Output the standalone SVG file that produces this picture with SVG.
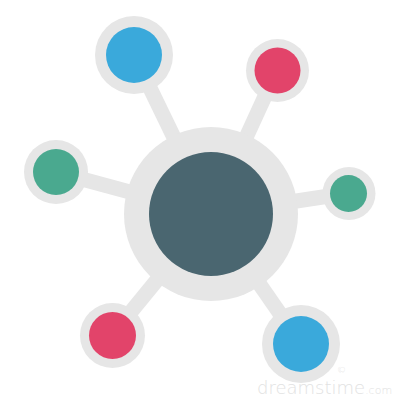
<svg xmlns="http://www.w3.org/2000/svg" width="400" height="400" viewBox="0 0 400 400">
<style>
.ring{fill:#e6e6e6}
.link{stroke:#e6e6e6;stroke-width:15;stroke-linecap:butt}
.blue{fill:#3aa9db}
.red{fill:#e2446a}
.green{fill:#4aa98f}
.hub{fill:#4a6670}
.wm{fill:#e2e2e2;font-family:"DejaVu Sans",sans-serif;font-weight:200}
</style>
<rect width="400" height="400" fill="#ffffff"/>
<g id="connectors">
<line class="link" x1="134" y1="55" x2="211" y2="214"/>
<line class="link" x1="277" y1="70" x2="211" y2="214"/>
<line class="link" x1="56" y1="172" x2="211" y2="214"/>
<line class="link" x1="349" y1="193" x2="211" y2="214"/>
<line class="link" x1="112" y1="335" x2="211" y2="214"/>
<line class="link" x1="301" y1="344" x2="211" y2="214"/>
</g>
<g id="hub">
<circle class="ring" cx="211" cy="214" r="87"/>
<circle class="hub" cx="211" cy="214" r="62"/>
</g>
<g id="node-top-left">
<circle class="ring" cx="134" cy="55" r="39"/>
<circle class="blue" cx="134" cy="55" r="28"/>
</g>
<g id="node-top-right">
<circle class="ring" cx="277.5" cy="70.5" r="31.5"/>
<circle class="red" cx="277.5" cy="70.5" r="23"/>
</g>
<g id="node-left">
<circle class="ring" cx="56" cy="172" r="32"/>
<circle class="green" cx="56" cy="172" r="23"/>
</g>
<g id="node-right">
<circle class="ring" cx="349" cy="193.5" r="26.5"/>
<circle class="green" cx="348.5" cy="193.5" r="18.5"/>
</g>
<g id="node-bottom-left">
<circle class="ring" cx="112.5" cy="335.5" r="32.5"/>
<circle class="red" cx="112.5" cy="335.5" r="23.5"/>
</g>
<g id="node-bottom-right">
<circle class="ring" cx="301" cy="344" r="39"/>
<circle class="blue" cx="301" cy="344" r="28"/>
</g>
<g id="watermark">
<text class="wm" x="257" y="394" font-size="18">dreamstime<tspan font-size="11">.com</tspan></text>
<text class="wm" x="337" y="373" font-size="9">©</text>
</g>
</svg>
